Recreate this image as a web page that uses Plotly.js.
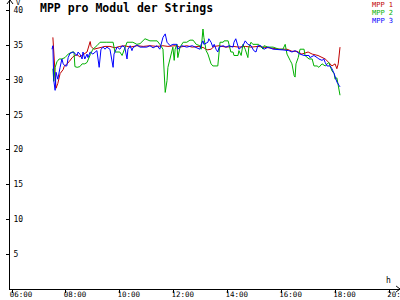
<!DOCTYPE html>
<html>
<head>
<meta charset="utf-8">
<script src="https://cdn.plot.ly/plotly-3.0.1.min.js"></script>
<style>html,body{margin:0;padding:0;background:#fff;}#chart{width:400px;height:300px;}</style>
</head>
<body>
<div id="chart"></div>
<script>
const DAY = '2024-01-01 ';
const chartTitle = 'MPP pro Modul der Strings';
const seriesNames = ['MPP 1', 'MPP 2', 'MPP 3'];
const xTickVals = ['06:00', '08:00', '10:00', '12:00', '14:00', '16:00', '18:00', '20:00'];
const yTickVals = [5, 10, 15, 20, 25, 30, 35, 40];

const timesMPP1 = ['07:31','07:35','07:38','07:42','07:47','07:54','07:56','08:02','08:07','08:14','08:20','08:25','08:31','08:38','08:47','08:54','08:56','09:02','09:09','09:16','09:27','09:38','09:49','10:00','10:11','10:23','10:38','10:52','11:07','11:23','11:36','11:47','12:03','12:14','12:29','12:41','12:56','13:07','13:14','13:23','13:30','13:41','13:56','14:12','14:25','14:39','14:52','15:07','15:21','15:41','15:56','16:12','16:23','16:34','16:45','16:59','17:08','17:21','17:30','17:37','17:45','17:52','17:59','18:03','18:06','18:10'];
const valuesMPP1 = [36.1,31.0,28.8,29.5,30.9,31.5,31.9,32.3,32.6,33.2,33.5,33.6,33.3,33.6,34.0,35.5,34.8,34.4,34.5,34.7,34.8,34.8,34.6,34.8,34.9,34.7,34.9,34.8,34.9,34.8,34.9,34.8,34.9,34.7,34.9,34.7,34.8,34.6,34.3,34.4,34.8,34.9,34.7,34.8,34.7,34.8,34.7,34.8,34.7,34.5,34.4,34.4,34.1,34.1,33.7,34.0,33.7,33.5,33.2,33.0,32.5,32.0,32.3,31.6,32.3,34.7];

const timesMPP2 = ['07:31','07:33','07:36','07:40','07:45','07:51','07:58','08:05','08:14','08:18','08:20','08:25','08:31','08:36','08:42','08:47','08:54','09:00','09:09','09:16','09:31','09:45','09:49','10:00','10:05','10:11','10:16','10:29','10:38','10:45','10:56','11:07','11:23','11:29','11:36','11:41','11:45','11:47','11:52','11:56','11:58','12:01','12:03','12:07','12:09','12:14','12:21','12:29','12:36','12:43','12:50','12:58','13:01','13:05','13:07','13:12','13:16','13:23','13:27','13:38','13:41','13:43','13:50','13:52','14:01','14:03','14:07','14:12','14:14','14:23','14:25','14:30','14:34','14:39','14:45','14:47','14:52','14:56','15:09','15:19','15:21','15:30','15:41','15:54','16:03','16:08','16:12','16:19','16:23','16:28','16:30','16:32','16:37','16:41','16:50','16:52','17:01','17:08','17:12','17:19','17:23','17:30','17:37','17:45','17:52','17:57','17:59','18:03','18:08','18:10'];
const valuesMPP2 = [31.6,29.8,31.8,32.6,33.0,33.0,33.2,33.7,34.0,34.0,31.9,31.8,31.9,32.3,32.3,32.5,33.6,34.4,34.9,35.4,35.4,35.4,34.0,34.0,33.5,34.4,35.4,35.4,35.1,35.2,35.9,35.6,35.6,35.1,34.4,28.2,29.9,31.8,33.2,34.4,34.7,32.8,34.4,35.1,33.2,34.7,35.4,35.4,35.7,35.7,35.1,34.9,34.4,37.3,36.1,34.2,33.7,32.3,32.0,32.0,34.2,35.4,35.4,35.6,35.6,34.9,34.0,34.0,33.5,33.5,34.2,33.5,35.1,34.4,33.2,34.7,35.4,35.1,35.1,34.4,34.9,34.7,34.7,34.4,34.4,35.1,33.7,32.8,32.3,30.6,30.4,32.3,33.2,34.4,34.4,33.5,33.0,33.0,32.0,32.0,31.8,32.3,32.0,32.5,31.3,30.9,30.1,30.3,28.7,27.8];

const timesMPP3 = ['07:29','07:31','07:33','07:36','07:38','07:42','07:47','07:51','07:54','07:58','08:02','08:05','08:09','08:16','08:25','08:27','08:31','08:36','08:38','08:42','08:47','08:49','08:54','09:00','09:09','09:14','09:18','09:23','09:27','09:31','09:38','09:45','09:47','09:54','10:00','10:05','10:11','10:16','10:18','10:23','10:27','10:29','10:38','10:45','11:00','11:07','11:14','11:23','11:29','11:36','11:41','11:45','11:52','11:58','12:07','12:09','12:18','12:29','12:41','12:52','12:58','13:01','13:05','13:07','13:16','13:18','13:23','13:27','13:30','13:34','13:38','13:41','13:50','13:56','14:03','14:12','14:14','14:18','14:23','14:25','14:34','14:39','14:45','14:52','14:58','15:03','15:07','15:14','15:21','15:30','15:41','15:54','16:03','16:16','16:23','16:30','16:34','16:41','16:50','17:01','17:03','17:12','17:19','17:23','17:30','17:34','17:37','17:41','17:48','17:52','17:57','17:59','18:03','18:08','18:10'];
const valuesMPP3 = [34.4,34.9,29.9,28.5,31.1,30.1,31.8,33.0,32.3,32.0,32.0,33.2,33.8,34.0,33.5,34.0,33.7,33.0,34.0,33.0,33.7,33.2,34.0,33.7,34.2,31.8,34.4,34.7,34.4,34.7,34.4,31.8,33.7,34.7,34.4,34.9,34.7,33.0,34.4,34.9,34.2,34.6,35.0,34.7,34.7,34.9,34.6,34.9,34.4,36.1,36.6,35.4,34.9,35.1,35.1,34.4,34.9,34.7,34.9,34.6,34.4,35.1,35.6,35.1,35.4,35.9,35.4,34.7,35.1,34.4,34.0,34.7,34.9,34.7,34.9,34.7,35.4,35.9,34.9,34.4,34.9,35.6,35.1,34.9,34.2,34.0,34.9,34.9,34.4,34.7,34.4,34.4,34.3,34.2,34.0,34.2,34.0,33.7,33.5,33.5,33.2,33.5,33.2,33.0,32.8,33.0,32.5,32.0,32.0,31.6,30.9,30.4,29.7,29.2,29.0];

const seriesColors = ['#c00000', '#00b000', '#0000ff'];
const FONT = 'DejaVu Sans Mono, Liberation Mono, monospace';

const withDay = arr => arr.map(t => DAY + t);
const allTimes = [timesMPP1, timesMPP2, timesMPP3];
const allValues = [valuesMPP1, valuesMPP2, valuesMPP3];

const traces = allTimes.map((t, i) => ({
  type: 'scatter', mode: 'lines', name: seriesNames[i],
  x: withDay(t), y: allValues[i],
  line: {color: seriesColors[i], width: 1},
  showlegend: false, hoverinfo: 'skip'
}));

const xRange = [DAY + '05:55:33', DAY + '20:23:30'];
const yRange = [0, 41.46];

const layout = {
  width: 400, height: 300,
  margin: {l: 10, r: 0, t: 0, b: 11, pad: 0},
  paper_bgcolor: '#fff', plot_bgcolor: '#fff',
  font: {family: FONT, size: 8, color: '#000'},
  showlegend: false,
  title: {text: '<b>' + chartTitle + '</b>', font: {family: FONT, size: 11.5, color: '#000'},
          xref: 'container', yref: 'container', x: 0.1, xanchor: 'left', y: 0.975, yanchor: 'middle'},
  xaxis: {
    type: 'date', range: xRange, showgrid: false, zeroline: false,
    showline: true, linecolor: '#000', linewidth: 1,
    ticks: 'outside', ticklen: 3, tickcolor: '#000', tickwidth: 1,
    tickvals: xTickVals.map(t => DAY + t), ticktext: xTickVals,
    ticklabelshift: 9, ticklabelstandoff: -5, ticklabeloverflow: 'allow',
    tickfont: {family: FONT, size: 7.5, color: '#000'}
  },
  xaxis2: {
    type: 'date', range: xRange, overlaying: 'x', anchor: 'y', side: 'bottom',
    showgrid: false, zeroline: false, showline: false,
    ticks: 'inside', ticklen: 3, tickcolor: '#000', tickwidth: 1,
    tickvals: xTickVals.map(t => DAY + t), showticklabels: false
  },
  yaxis: {
    range: yRange, showgrid: false, zeroline: false,
    showline: true, linecolor: '#000', linewidth: 1,
    ticks: 'outside', ticklen: 3, tickcolor: '#000', tickwidth: 1,
    tickvals: yTickVals, ticktext: yTickVals.map(String),
    ticklabelposition: 'inside', ticklabelstandoff: 2, ticklabeloverflow: 'allow',
    tickfont: {family: FONT, size: 8, color: '#000'}
  },
  yaxis2: {
    range: yRange, overlaying: 'y', anchor: 'x', side: 'left',
    showgrid: false, zeroline: false, showline: false,
    ticks: 'inside', ticklen: 3, tickcolor: '#000', tickwidth: 1,
    tickvals: yTickVals, showticklabels: false
  },
  shapes: [
    {type: 'path', xref: 'paper', yref: 'paper', path: 'M -0.0077 0.9862 L 0 1 L 0.0077 0.9862',
     line: {color: '#000', width: 1}},
    {type: 'path', xref: 'paper', yref: 'paper', path: 'M 0.99 0.0103 L 1 0 L 0.99 -0.0103',
     line: {color: '#000', width: 1}}
  ],
  annotations: [
    {text: 'V', xref: 'paper', yref: 'paper', x: 0.012, y: 0.99, xanchor: 'left', yanchor: 'middle', showarrow: false, borderpad: 0, font: {family: FONT, size: 7}},
    {text: 'h', xref: 'paper', yref: 'paper', x: 0.9705, y: 0.028, xanchor: 'center', yanchor: 'middle', showarrow: false, font: {family: FONT, size: 8}},
    ...seriesNames.map((n, i) => ({
      text: n, xref: 'paper', yref: 'paper', x: 0.985, y: 1 - (4.6 + 8.2 * i) / 289,
      xanchor: 'right', yanchor: 'middle', showarrow: false, borderpad: 0,
      font: {family: FONT, size: 7, color: seriesColors[i]}
    }))
  ]
};

Plotly.newPlot('chart', traces, layout, {staticPlot: true, displayModeBar: false});
</script>
</body>
</html>
